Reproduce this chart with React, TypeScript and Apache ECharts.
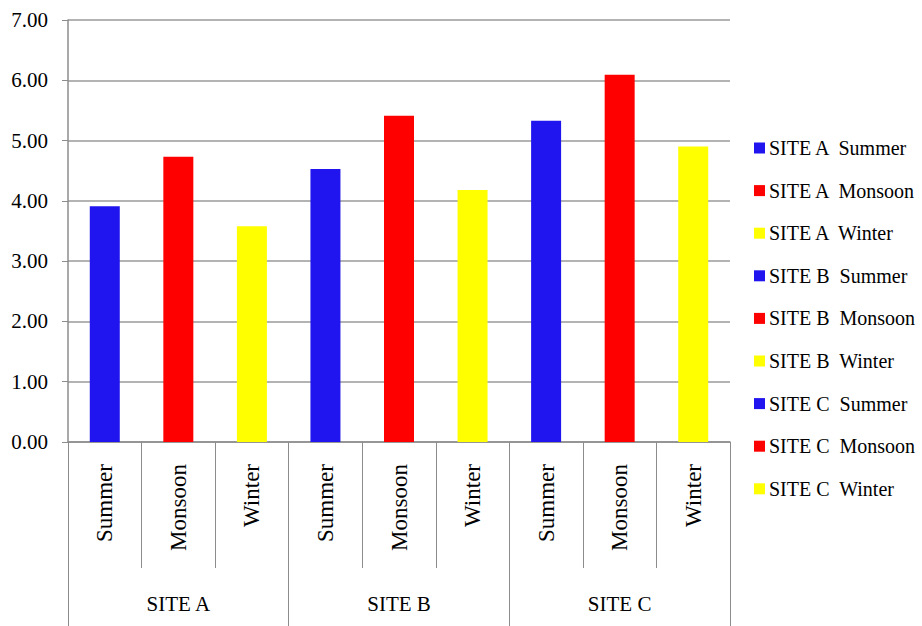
import React, { useEffect, useRef } from "react";
import * as echarts from "echarts";

// Sites and seasons along the two-level category axis
const sites = ["SITE A", "SITE B", "SITE C"];
const seasons = ["Summer", "Monsoon", "Winter"];

// Values per site, in season order
const siteA = [3.91, 4.73, 3.58];
const siteB = [4.53, 5.41, 4.18];
const siteC = [5.33, 6.09, 4.9];

const yTicks = [0, 1, 2, 3, 4, 5, 6, 7];

const seasonColors = ["#2015EE", "#FF0000", "#FFFF00"];
const FONT = "'Liberation Serif', 'Times New Roman', serif";

export default function App() {
  const ref = useRef<HTMLDivElement>(null);

  useEffect(() => {
    if (!ref.current) return;
    const chart = echarts.init(ref.current, null, { renderer: "svg" });

    const siteValues = [siteA, siteB, siteC];
    const categories: string[] = [];
    sites.forEach(() => seasons.forEach((s) => categories.push(s)));

    // One series per site/season so each gets its own legend entry
    const series: any[] = [];
    sites.forEach((site, si) => {
      seasons.forEach((season, ti) => {
        const idx = si * seasons.length + ti;
        const data = categories.map((_, ci) => (ci === idx ? siteValues[si][ti] : null));
        series.push({
          name: `${site}  ${season}`,
          type: "bar",
          stack: "all",
          xAxisIndex: 0,
          barWidth: 30,
          itemStyle: { color: seasonColors[ti] },
          data,
        });
      });
    });

    const axisGray = "#8c8c8c";

    chart.setOption({
      animation: false,
      backgroundColor: "#ffffff",
      textStyle: { fontFamily: FONT },
      grid: { left: 68, right: 192, top: 20, bottom: 184, containLabel: false },
      legend: {
        orient: "vertical",
        left: 754,
        top: 138,
        padding: 0,
        itemWidth: 11,
        itemHeight: 11,
        itemGap: 22.6,
        icon: "rect",
        textStyle: { fontFamily: FONT, fontSize: 20, color: "#000", lineHeight: 20, padding: [0, 0, 0, -1] },
        data: series.map((s) => s.name),
      },
      xAxis: [
        {
          type: "category",
          data: categories,
          position: "bottom",
          axisLine: { show: true, lineStyle: { color: axisGray, width: 1.5 } },
          axisTick: { show: true, interval: 0, length: 126, lineStyle: { color: axisGray, width: 1 } },
          axisLabel: {
            interval: 0,
            rotate: 90,
            margin: 22,
            fontFamily: FONT,
            fontSize: 23,
            color: "#000",
          },
          splitLine: { show: false },
        },
        {
          type: "category",
          data: sites,
          position: "bottom",
          axisLine: { show: false },
          axisTick: { show: true, interval: 0, length: 185, lineStyle: { color: axisGray, width: 1 } },
          axisLabel: {
            interval: 0,
            margin: 151,
            fontFamily: FONT,
            fontSize: 21,
            color: "#000",
          },
          splitLine: { show: false },
        },
      ],
      yAxis: {
        type: "value",
        min: yTicks[0],
        max: yTicks[yTicks.length - 1],
        interval: 1,
        axisLine: { show: true, lineStyle: { color: axisGray, width: 1.5 } },
        axisTick: { show: true, length: 6, lineStyle: { color: axisGray, width: 1 } },
        axisLabel: {
          margin: 20,
          fontFamily: FONT,
          fontSize: 21,
          color: "#000",
          formatter: (v: number) => v.toFixed(2),
        },
        splitLine: { show: true, lineStyle: { color: "#9a9a9a", width: 1.5 } },
      },
      series,
    });

    return () => chart.dispose();
  }, []);

  return <div ref={ref} style={{ width: 922, height: 626, position: "absolute", left: 0, top: 0 }} />;
}
